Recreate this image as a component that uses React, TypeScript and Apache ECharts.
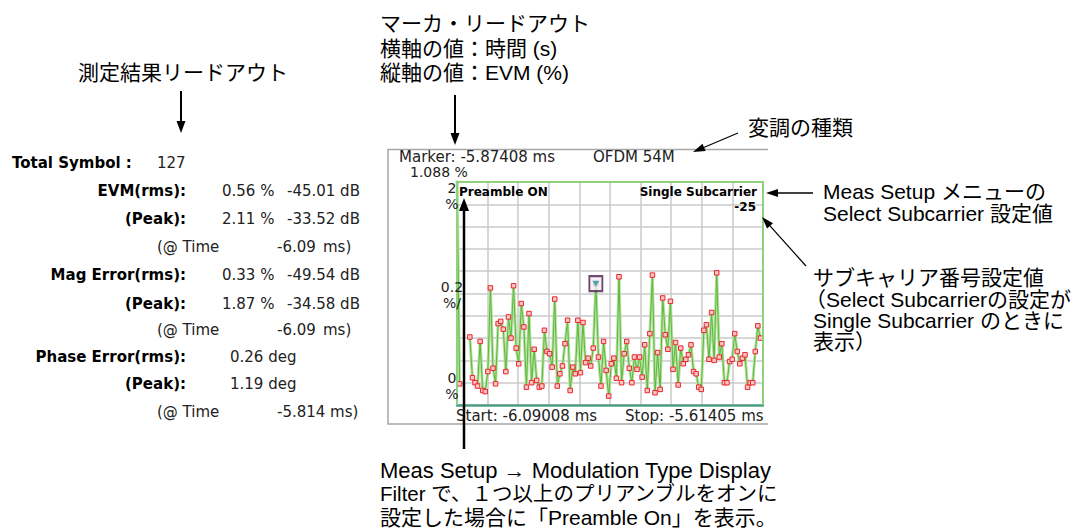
import { useEffect, useRef } from 'react';
import * as echarts from 'echarts';

// EVM (%) per OFDM symbol, Single Subcarrier -25 (null = not drawn)
const evmPercent: (number | null)[] = [
  2.11, 0.19, null, null, null, 0.61, 0.245, 0.2, 0.17, 0.57,
  0.13, 0.12, 0.3, 1.05, 0.33, 0.19, 0.73, 0.75, 0.68, 0.3,
  0.79, 0.6, 1.07, 0.51, 0.37, 0.91, 0.7, 0.16, 0.82, 0.2,
  0.5, 0.22, 0.16, 0.17, 0.67, 0.48, 0.46, 0.34, 0.95, 0.17,
  0.28, 0.35, 0.55, 0.76, 0.13, 0.34, 0.28, 0.76, 0.29, 0.74,
  0.38, 0.42, 0.35, 0.51, 1.088, 0.43, 0.17, 0.57, 0.31, 0.08,
  0.37, 0.42, 0.24, 1.15, 0.2, 0.46, 0.57, 0.33, 0.2, 0.43,
  0.32, 0.43, 0.25, 0.54, 0.13, 0.64, 1.165, 0.11, 0.47, 0.14,
  0.96, 0.63, 0.5, 0.93, 0.32, 0.56, 0.18, 0.51, 0.37, 0.41,
  0.45, 0.54, 0.3, 0.28, 0.16, 0.14, 0.67, 0.72, 0.41, 0.83,
  0.4, 1.185, 0.43, 0.55, 0.2, 0.2, 0.39, 0.41, 0.64, 0.48,
  0.37, 0.42, 0.45, 0.16, 0.2, 0.2, 0.48, 0.71, 0.6,
];

const symbolSpan = 119; // symbols between Start and Stop
const markerSymbol = 54;
const markerValue = 1.088;
const yMax = 2;
const yStep = 0.2;

const yTickLabels = [
  { value: 2, lines: ['2', '%'] },
  { value: 1, lines: ['0.2', '%/'] },
  { value: 0, lines: ['0', '%'] },
];

const readoutTotal = { label: 'Total Symbol :', value: '127' };
const readoutRows = [
  { label: 'EVM(rms):', a: '0.56 %', b: '-45.01 dB' },
  { label: '(Peak):', a: '2.11 %', b: '-33.52 dB' },
  { label: '', time: '-6.09', unit: 'ms)' },
  { label: 'Mag Error(rms):', a: '0.33 %', b: '-49.54 dB' },
  { label: '(Peak):', a: '1.87 %', b: '-34.58 dB' },
  { label: '', time: '-6.09', unit: 'ms)' },
  { label: 'Phase Error(rms):', deg: '0.26 deg' },
  { label: '(Peak):', deg: '1.19 deg' },
  { label: '', time: '-5.814 ms)' },
];

const INST = '"DejaVu Sans", Verdana, sans-serif';
const NOTE = '"Liberation Sans", Arial, "Noto Sans CJK JP", sans-serif';

const GRID = { left: 457, top: 182, width: 306, height: 223 };

function arrow(x1: number, y1: number, x2: number, y2: number, w: number, hl: number, hw: number) {
  const dx = x2 - x1;
  const dy = y2 - y1;
  const len = Math.hypot(dx, dy);
  const ux = dx / len;
  const uy = dy / len;
  const bx = x2 - ux * hl;
  const by = y2 - uy * hl;
  const nx = -uy * hw;
  const ny = ux * hw;
  return [
    { type: 'line', z: 100, shape: { x1, y1, x2: bx + ux, y2: by + uy }, style: { stroke: '#000', lineWidth: w } },
    {
      type: 'polygon', z: 100,
      shape: { points: [[x2, y2], [bx + nx, by + ny], [bx - nx, by - ny]] },
      style: { fill: '#000' },
    },
  ];
}

function txt(text: string, x: number, y: number, font: string, align = 'left', fill = '#000') {
  return {
    type: 'text', z: 100,
    style: { text, x, y, font, fill, textAlign: align, textVerticalAlign: 'middle' },
  };
}

function note(text: string, x: number, y: number, size = 21) {
  return txt(text, x, y, `${size}px ${NOTE}`);
}

export default function App() {
  const ref = useRef<HTMLDivElement>(null);

  useEffect(() => {
    if (!ref.current) return;
    const chart = echarts.init(ref.current, null, { renderer: 'svg' });

    const points = evmPercent.map((v, i) => [i, v]);
    const yPx = (v: number) => GRID.top + GRID.height * (1 - v / yMax);

    const graphics: any[] = [];

    // instrument screen frame
    graphics.push({
      type: 'polyline', z: 90,
      shape: { points: [[768, 149.5], [388, 149.5], [388, 424], [768, 424]] },
      style: { stroke: '#a6a6a6', lineWidth: 1.5, fill: 'none' },
    });
    // trace frame (bottom edge is the x axis line)
    graphics.push({
      type: 'polyline', z: 90,
      shape: {
        points: [
          [GRID.left, GRID.top + GRID.height], [GRID.left, GRID.top],
          [GRID.left + GRID.width, GRID.top], [GRID.left + GRID.width, GRID.top + GRID.height],
        ],
      },
      style: { stroke: '#8fd27c', lineWidth: 2, fill: 'none' },
    });

    const f15 = `15px ${INST}`;
    graphics.push(txt('Marker: -5.87408 ms', 399, 157, f15, 'left', '#222'));
    graphics.push(txt('OFDM 54M', 593, 157, f15, 'left', '#222'));
    graphics.push(txt(`${markerValue.toFixed(3)} %`, 410, 172, `14px ${INST}`, 'left', '#222'));
    graphics.push(txt('Start: -6.09008 ms', 456, 416, f15, 'left', '#222'));
    graphics.push(txt('Stop: -5.61405 ms', 625, 416, f15, 'left', '#222'));
    graphics.push({ type: 'rect', z: 95, shape: { x: 768.5, y: 406, width: 14, height: 18 }, style: { fill: '#fff' } });

    const b12 = `bold 12px ${INST}`;
    graphics.push(txt('Preamble ON', 459, 192, b12));
    graphics.push(txt('Single Subcarrier', 757, 192, b12, 'right'));
    graphics.push(txt('-25', 756, 207, b12, 'right'));

    yTickLabels.forEach((t) => {
      const c = yPx(t.value);
      const off = t.value === yMax ? 14 : t.value === 0 ? -19 : 1;
      graphics.push(txt(t.lines[0], 452, c + off - 8, `14px ${INST}`, 'center', '#222'));
      graphics.push(txt(t.lines[1], 452, c + off + 8, `14px ${INST}`, 'center', '#222'));
    });

    // left readout
    const rb = `bold 15px ${INST}`;
    const rr = `15px ${INST}`;
    graphics.push(txt(readoutTotal.label, 12, 163, rb));
    graphics.push(txt(readoutTotal.value, 157, 163, rr, 'left', '#222'));
    const rowY = [191, 219, 247, 275, 304, 330, 357, 384, 412];
    readoutRows.forEach((r: any, i) => {
      const y = rowY[i];
      if (r.label) graphics.push(txt(r.label, 186, y, rb, 'right'));
      if (r.a) graphics.push(txt(r.a, 222, y, rr, 'left', '#222'));
      if (r.b) graphics.push(txt(r.b, 287, y, rr, 'left', '#222'));
      if (r.deg) graphics.push(txt(r.deg, 230, y, rr, 'left', '#222'));
      if (r.time) {
        graphics.push(txt('(@ Time', 157, y, rr, 'left', '#222'));
        graphics.push(txt(r.time, 277, y, rr, 'left', '#222'));
        if (r.unit) graphics.push(txt(r.unit, 323, y, rr, 'left', '#222'));
      }
    });

    // annotations
    graphics.push(note('測定結果リードアウト', 78, 72));
    graphics.push(...arrow(181, 91, 181, 133, 2, 12, 4.5));

    graphics.push(note('マーカ・リードアウト', 380, 23));
    graphics.push(note('横軸の値：時間 (s)', 380, 48));
    graphics.push(note('縦軸の値：EVM (%)', 380, 72));
    graphics.push(...arrow(455, 95, 455, 145, 2, 12, 4.5));

    graphics.push(note('変調の種類', 748, 127));
    graphics.push(...arrow(738, 133, 693, 152, 1.2, 12, 4));

    graphics.push(note('Meas Setup メニューの', 823, 191));
    graphics.push(note('Select Subcarrier 設定値', 823, 213));
    graphics.push(...arrow(813, 193, 766, 193, 1.5, 12, 4));

    graphics.push(...arrow(806, 266, 762, 217, 1.2, 12, 4));
    graphics.push(note('サブキャリア番号設定値', 813, 277));
    graphics.push(note('（Select Subcarrierの設定が', 805, 299));
    graphics.push(note('Single Subcarrier のときに', 813, 320));
    graphics.push(note('表示）', 813, 341));

    graphics.push(...arrow(464, 449, 464, 198, 2.5, 13, 5));
    graphics.push(note('Meas Setup → Modulation Type Display', 380, 470, 22));
    graphics.push(note('Filter で、１つ以上のプリアンブルをオンに', 380, 493, 20.5));
    graphics.push(note('設定した場合に「Preamble On」を表示。', 380, 517));

    chart.setOption({
      animation: false,
      backgroundColor: '#fff',
      grid: { ...GRID, containLabel: false },
      xAxis: {
        type: 'value', min: 0, max: symbolSpan, interval: symbolSpan / 10,
        axisLabel: { show: false }, axisTick: { show: false },
        axisLine: { show: true, onZero: false, lineStyle: { color: '#4f9e86', width: 2.5 } },
        splitLine: { show: true, lineStyle: { color: '#cacaca', width: 1.5 } },
      },
      yAxis: {
        type: 'value', min: 0, max: yMax, interval: yStep,
        axisLabel: { show: false }, axisTick: { show: false }, axisLine: { show: false },
        splitLine: { show: true, lineStyle: { color: '#cacaca', width: 1.5 } },
      },
      series: [
        {
          type: 'line', data: points, symbol: 'none', clip: true, z: 2,
          lineStyle: { color: '#b6e1a0', width: 3 },
        },
        {
          type: 'line', data: points, clip: true, z: 3,
          symbol: 'rect', symbolSize: 4.5, showAllSymbol: true,
          itemStyle: { color: '#ffc4c4', borderColor: '#e8262c', borderWidth: 1 },
          lineStyle: { color: '#5cb83c', width: 1 },
        },
        {
          type: 'scatter', data: [[markerSymbol, markerValue]], z: 4,
          symbol: 'rect', symbolSize: [13, 15],
          itemStyle: { color: '#f6eef6', borderColor: '#4b2147', borderWidth: 2 },
        },
        {
          type: 'scatter', data: [[markerSymbol, markerValue]], z: 5,
          symbol: 'triangle', symbolRotate: 180, symbolSize: [7, 6],
          itemStyle: { color: '#1f9a9a' },
        },
      ],
      graphic: graphics,
    });

    return () => chart.dispose();
  }, []);

  return (
    <div
      ref={ref}
      style={{ position: 'absolute', left: 0, top: 0, width: 1082, height: 532, background: '#fff' }}
    />
  );
}
